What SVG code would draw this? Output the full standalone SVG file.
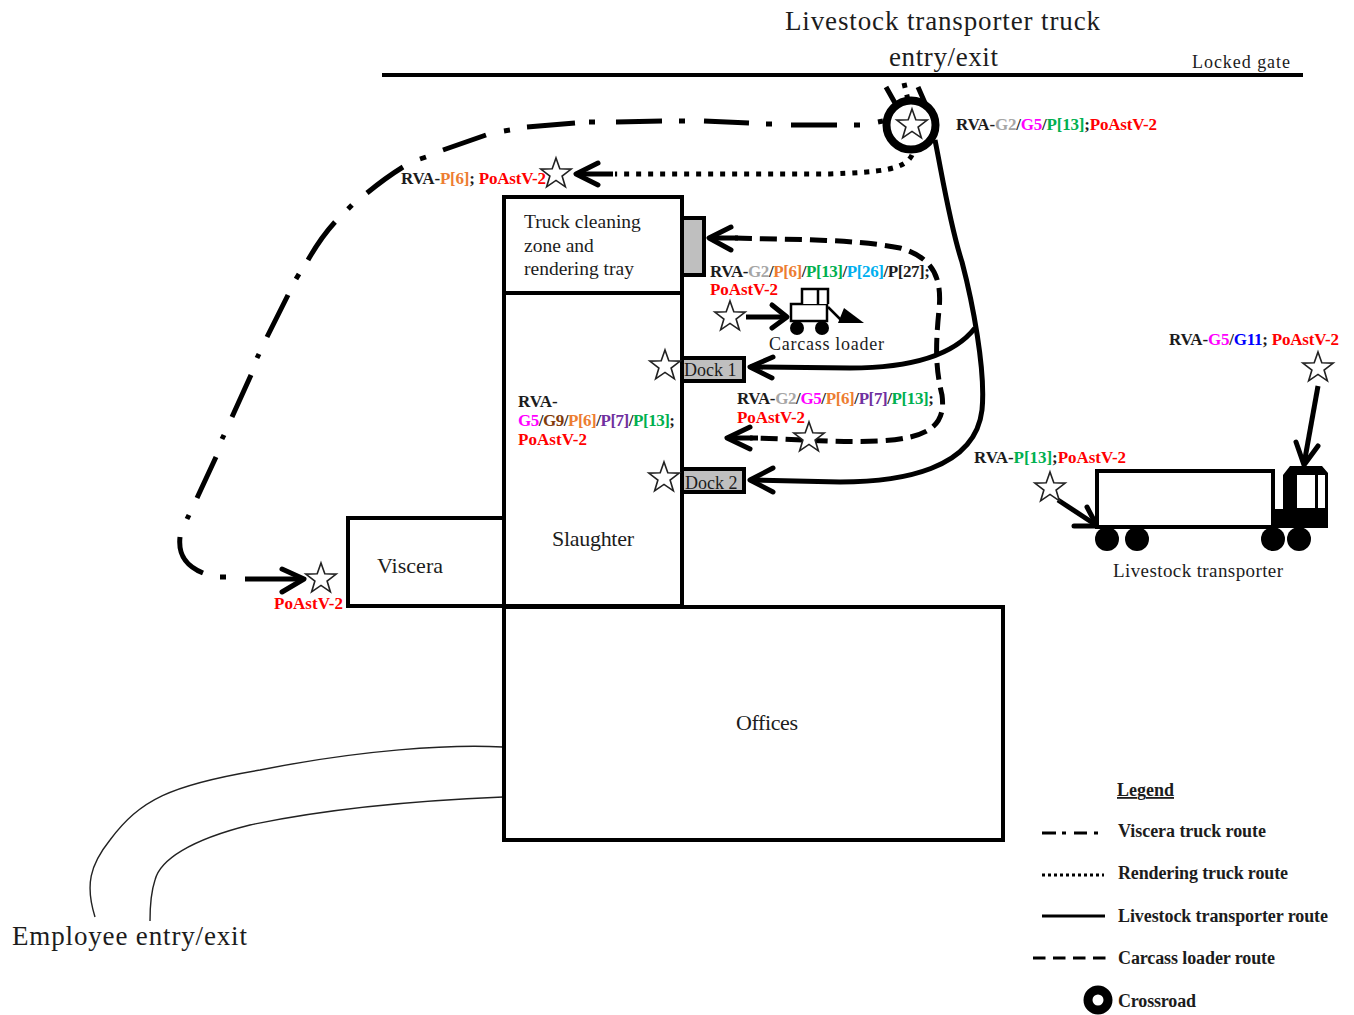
<svg xmlns="http://www.w3.org/2000/svg" width="1354" height="1015" viewBox="0 0 1354 1015">
<style>
text{font-family:"Liberation Serif","Times New Roman",serif;fill:#1c1c1c}
.b{fill:#fff;stroke:#000;stroke-width:4}
.g{fill:#bfbfbf;stroke:#000;stroke-width:4}
.r{fill:none;stroke:#000;stroke-width:5}
.d{stroke-dasharray:5 7}
.c{stroke-dasharray:17 8}
.h{fill:none;stroke:#000;stroke-width:5;stroke-linecap:round;stroke-linejoin:round}
.s{fill:#fff;stroke:#222;stroke-width:1.6}
.l{font-size:17px;font-weight:bold}
.k{font-size:18px;font-weight:bold}
.lr{fill:#f00}.g2{fill:#a6a6a6}.g5{fill:#f0f}.p13{fill:#00b050}.p6{fill:#ed7d31}.p26{fill:#00b0f0}.p7{fill:#7030a0}.g9{fill:#833c0b}.g11{fill:#00f}
</style>
<defs>
<polygon id="star" class="s" points="0,-16 3.8,-5.2 15.2,-4.9 6.1,2 9.4,12.9 0,6.4 -9.4,12.9 -6.1,2 -15.2,-4.9 -3.8,-5.2"/>
</defs>
<g id="gate-line"><line x1="382" y1="75" x2="1303" y2="75" stroke="#000" stroke-width="4"/></g>
<g id="employee-road" fill="none" stroke="#222" stroke-width="1.4">
<path d="M503,747C450,744 360,750 260,770C170,785 140,800 110,840C90,865 85,885 95,917"/>
<path d="M503,797C430,800 330,808 250,825C190,840 160,860 155,880C150,895 150,910 150,921"/>
</g>
<g id="connectors">
<path class="r" d="M883,121L878,122M860,125L854,125M837,125L791,125M772,124L766,124M749,123L704,121M685,121L679,121M662,121L616,122M595,122L589,122M575,123L527,127M510,130L504,131M486,135L443,150M426,157L420,159M403,167C390,175 378,184 367,193M352,205L348,209M335,222C325,233 316,246 308,260M299,274L296,279M288,295L267,337M259,354L257,358M251,375L232,417M224,435L222,439M216,457L197,498M189,515L187,519M180,537C178,555 186,566 203,573M220,577L226,577"/>
<path class="r" d="M245,579L302,579"/>
<path class="h" d="M282,569L304,579L282,592"/>
<path class="r d" d="M912,155C905,170 880,172 830,174L615,174"/>
<path class="r" d="M613,174L577,174"/>
<path class="h" d="M598,163L576,174L598,185"/>
<path class="r" d="M886,87L895,103M918,87L925,103"/>
<path class="r d" d="M904,83L908,100"/>
<path class="r" d="M935,140C943,180 950,225 962,262C972,300 986,370 982,410C975,470 900,482 840,482L750,480"/>
<path class="h" d="M773,468L750,480L773,492"/>
<path class="r" d="M975,328C950,360 900,368 850,368L750,367"/>
<path class="h" d="M773,357L750,367L772,378"/>
<path class="r c" d="M735,238C780,240 850,238 900,248C935,258 942,280 939,310C935,350 936,370 942,395C946,425 930,438 880,441C830,443 780,438 750,438"/>
<path class="r" d="M710,238L738,238M729,438L758,438"/>
<path class="h" d="M731,227L709,238L731,250"/>
<path class="h" d="M750,427L727,438L750,449"/>
<path class="r" d="M746,317L786,317"/>
<path class="h" d="M772,305L787,317L772,328"/>
<path class="r" d="M1318,386L1304,464"/>
<path class="h" d="M1296,442L1304,465L1318,446"/>
<path class="r" d="M1058,500L1096,525"/>
<path class="h" d="M1087,507L1097,526L1074,526"/>
</g>
<g id="truck-cleaning"><rect class="b" x="504" y="197" width="178" height="96"/><rect class="g" x="682" y="218" width="22" height="57"/>
<text x="524" y="228" font-size="19.5">Truck cleaning</text><text x="524" y="252" font-size="19.5">zone and</text><text x="524" y="275" font-size="19.5">rendering tray</text></g>
<g id="viscera"><rect class="b" x="348" y="518" width="156" height="88"/><text x="377" y="573" font-size="22" textLength="66">Viscera</text></g>
<g id="slaughter"><rect class="b" x="504" y="293" width="178" height="313"/><text x="552" y="546" font-size="22" textLength="82">Slaughter</text>
<text class="l" x="518" y="407">RVA-</text>
<text class="l" x="518" y="426" textLength="157"><tspan class="g5">G5</tspan>/<tspan class="g9">G9</tspan>/<tspan class="p6">P[6]</tspan>/<tspan class="p7">P[7]</tspan>/<tspan class="p13">P[13]</tspan>;</text>
<text class="l lr" x="518" y="445" textLength="69">PoAstV-2</text></g>
<g id="dock-1"><rect class="g" x="682" y="358" width="62" height="23"/><text x="684" y="376" font-size="18">Dock 1</text></g>
<g id="dock-2"><rect class="g" x="682" y="469" width="62" height="23"/><text x="685" y="489" font-size="18">Dock 2</text></g>
<g id="offices"><rect class="b" x="504" y="607" width="499" height="233"/><text x="736" y="730" font-size="22" textLength="62">Offices</text></g>
<g id="crossroad"><circle cx="911" cy="125" r="24.5" fill="none" stroke="#000" stroke-width="8"/><use href="#star" x="912" y="125"/></g>
<g id="stars">
<use href="#star" x="556" y="174"/><use href="#star" x="730" y="317"/><use href="#star" x="665" y="366"/><use href="#star" x="809" y="438"/><use href="#star" x="664" y="478"/><use href="#star" x="321" y="579"/><use href="#star" x="1050" y="488"/><use href="#star" x="1318" y="368"/>
</g>
<g id="carcass-loader">
<rect x="791" y="304" width="36" height="17" fill="#fff" stroke="#000" stroke-width="2.5"/>
<path d="M802,304V289H828V304M818,289V304" fill="#fff" stroke="#000" stroke-width="2.5"/>
<circle cx="797" cy="328" r="7"/><circle cx="822" cy="328" r="7"/>
<path d="M828,307L843,322" stroke="#000" stroke-width="2.5"/>
<polygon points="844,308 864,323 838,323"/>
<text x="769" y="350" font-size="18" textLength="115">Carcass loader</text>
</g>
<g id="livestock-transporter">
<rect x="1097" y="471" width="176" height="56" fill="#fff" stroke="#000" stroke-width="4"/>
<polygon points="1283,475 1290,466 1322,466 1328,473 1328,528 1273,528 1273,509 1283,509"/>
<rect x="1297" y="475" width="18" height="33" fill="#fff"/><rect x="1318" y="475" width="7" height="33" fill="#fff"/>
<circle cx="1107" cy="539" r="12"/><circle cx="1137" cy="539" r="12"/><circle cx="1273" cy="539" r="12"/><circle cx="1299" cy="539" r="12"/>
<text x="1113" y="577" font-size="19" textLength="170">Livestock transporter</text>
</g>
<g id="labels">
<text x="785" y="30" font-size="27" textLength="315">Livestock transporter truck</text>
<text x="889" y="66" font-size="27" textLength="109">entry/exit</text>
<text x="1192" y="68" font-size="18" textLength="98">Locked gate</text>
<text x="12" y="945" font-size="27" textLength="235">Employee entry/exit</text>
<text class="l" x="956" y="130" textLength="201">RVA-<tspan class="g2">G2</tspan>/<tspan class="g5">G5</tspan>/<tspan class="p13">P[13]</tspan>;<tspan class="lr">PoAstV-2</tspan></text>
<text class="l" x="401" y="184" textLength="145">RVA-<tspan class="p6">P[6]</tspan>; <tspan class="lr">PoAstV-2</tspan></text>
<text class="l" x="710" y="277" textLength="220">RVA-<tspan class="g2">G2</tspan>/<tspan class="p6">P[6]</tspan>/<tspan class="p13">P[13]</tspan>/<tspan class="p26">P[26]</tspan>/P[27];</text>
<text class="l lr" x="710" y="295" textLength="68">PoAstV-2</text>
<text class="l" x="737" y="404" textLength="197">RVA-<tspan class="g2">G2</tspan>/<tspan class="g5">G5</tspan>/<tspan class="p6">P[6]</tspan>/<tspan class="p7">P[7]</tspan>/<tspan class="p13">P[13]</tspan>;</text>
<text class="l lr" x="737" y="423" textLength="68">PoAstV-2</text>
<text class="l" x="974" y="463" textLength="152">RVA-<tspan class="p13">P[13]</tspan>;<tspan class="lr">PoAstV-2</tspan></text>
<text class="l" x="1169" y="345" textLength="170">RVA-<tspan class="g5">G5</tspan>/<tspan class="g11">G11</tspan>; <tspan class="lr">PoAstV-2</tspan></text>
<text class="l lr" x="274" y="609" textLength="69">PoAstV-2</text>
</g>
<g id="legend">
<text class="k" x="1117" y="796" text-decoration="underline" textLength="57">Legend</text>
<path d="M1042,833H1056M1062,833H1066M1074,833H1087M1094,833H1098" stroke="#000" stroke-width="3" fill="none"/>
<path d="M1042,875H1104" stroke="#000" stroke-width="3" stroke-dasharray="3 3" fill="none"/>
<path d="M1042,916H1105" stroke="#000" stroke-width="3" fill="none"/>
<path d="M1033,958H1106" stroke="#000" stroke-width="3" stroke-dasharray="12.5 7.5" fill="none"/>
<circle cx="1098" cy="1000" r="10" fill="#fff" stroke="#000" stroke-width="9"/>
<text class="k" x="1118" y="837" textLength="148">Viscera truck route</text>
<text class="k" x="1118" y="879" textLength="170">Rendering truck route</text>
<text class="k" x="1118" y="922" textLength="210">Livestock transporter route</text>
<text class="k" x="1118" y="964" textLength="157">Carcass loader route</text>
<text class="k" x="1118" y="1007" textLength="78">Crossroad</text>
</g>
</svg>
